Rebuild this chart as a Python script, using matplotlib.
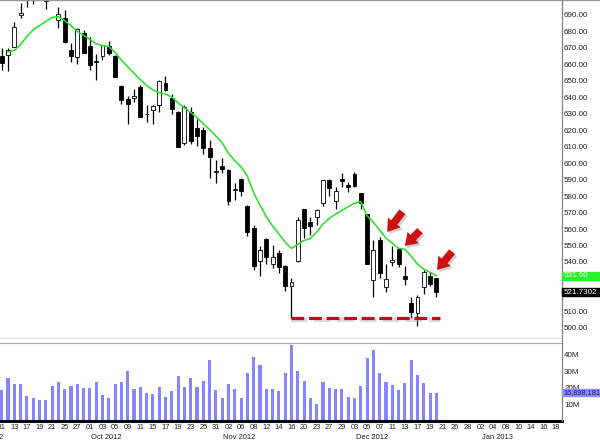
import numpy as np
import matplotlib.pyplot as plt
import matplotlib.ticker as ticker
import matplotlib.transforms as mtransforms
from matplotlib.patches import Rectangle
from matplotlib.lines import Line2D

plt.rcParams['font.family'] = ['Liberation Sans', 'DejaVu Sans']

# trading-day slots: Sep 11 2012 .. Dec 20 2012 have data, the rest up to Jan 18 2013 is empty
days = ['11', '12', '13', '14', '17', '18', '19', '20', '21', '24', '25', '26', '27', '28',
        '01', '02', '03', '04', '05', '08', '09', '10', '11', '12', '15', '16', '17', '18', '19',
        '22', '23', '24', '25', '26', '31',
        '01', '02', '05', '06', '07', '08', '09', '12', '13', '14', '15', '16', '19', '20', '21',
        '23', '26', '27', '28', '29', '30',
        '03', '04', '05', '06', '07', '10', '11', '12', '13', '14', '17', '18', '19', '20',
        '21', '24', '26', '27', '28', '31', '02', '03', '04', '07', '08', '09', '10', '11',
        '14', '15', '16', '17', '18']
months = ['Sep 2012', 'Oct 2012', 'Nov 2012', 'Dec 2012', 'Jan 2013']
month_start = [-5, 14, 35, 56, 76]

opens = [665.1, 665.5, 670.8, 690.0, 699.4, 699.9, 700.3, 699.2, 702.4, 686.9, 688.3, 668.7, 664.3, 678.8,
         671.2, 661.8, 664.9, 671.3, 665.2, 646.9, 638.7, 639.7, 646.5, 629.6, 632.4, 635.4, 648.9, 639.6,
         631.1, 612.4, 631.0, 621.4, 620.0, 609.4, 594.9,
         598.2, 595.9, 583.5, 590.2, 573.8, 560.6, 540.4, 554.2, 538.9, 545.5, 537.5, 525.2, 540.7, 571.9,
         564.3, 567.2, 575.9, 589.6, 577.3, 590.2, 586.8,
         593.7, 581.8, 568.9, 528.9, 553.4, 525.0, 539.8, 547.8, 531.2, 514.8, 508.9, 525.0, 531.5, 530.0]
highs = [670.1, 669.9, 685.5, 697.0, 699.8, 702.3, 704.0, 700.1, 705.1, 695.1, 692.8, 672.7, 682.2, 681.1,
         676.8, 666.4, 671.9, 674.3, 666.0, 647.6, 640.5, 645.0, 647.2, 635.4, 635.1, 650.3, 652.8, 642.1,
         631.8, 635.4, 633.9, 626.6, 622.0, 614.0, 602.0,
         603.0, 596.3, 587.8, 590.7, 574.5, 562.2, 549.9, 554.5, 550.5, 547.5, 538.3, 530.0, 567.5, 572.0,
         567.4, 572.0, 590.0, 590.4, 585.8, 594.3, 588.4,
         594.6, 581.8, 569.3, 553.3, 555.0, 538.5, 549.6, 547.8, 537.6, 518.8, 520.0, 534.9, 533.7, 530.2]
lows = [656.5, 656.0, 670.4, 687.9, 694.6, 696.4, 699.6, 693.6, 699.4, 682.0, 673.0, 661.2, 660.4, 666.8,
        656.5, 650.7, 662.6, 665.6, 652.3, 636.1, 623.6, 637.0, 628.1, 625.3, 623.9, 631.0, 644.0, 630.0,
        609.6, 610.8, 611.7, 610.6, 605.6, 591.0, 587.7,
        594.2, 574.8, 577.6, 580.1, 555.8, 535.3, 531.6, 538.7, 536.4, 533.1, 522.2, 505.8, 539.9, 554.6,
        556.6, 562.6, 573.7, 580.1, 572.3, 585.3, 582.7,
        585.5, 572.1, 538.8, 518.6, 530.0, 521.6, 537.4, 536.7, 525.8, 505.8, 501.2, 520.3, 525.5, 518.9]
closes = [660.6, 668.5, 683.0, 691.3, 699.8, 701.9, 702.1, 698.7, 700.1, 690.8, 673.5, 665.2, 681.3, 667.1,
          659.4, 661.3, 671.5, 666.8, 652.6, 638.2, 635.9, 640.9, 628.1, 629.7, 634.8, 649.8, 644.6, 632.6,
          609.8, 634.0, 613.4, 616.8, 609.5, 604.0, 595.3,
          596.5, 576.8, 584.6, 582.9, 558.0, 537.8, 547.1, 542.8, 542.9, 536.9, 525.6, 527.7, 565.7, 560.9,
          561.7, 571.5, 589.5, 584.8, 582.9, 589.4, 585.3,
          586.2, 575.9, 538.8, 547.2, 533.3, 529.8, 541.4, 539.0, 529.7, 509.8, 518.8, 533.9, 526.3, 521.73]

# moving average, starts at the second candle
sma = [667.5, 668.5, 672.0, 677.0, 681.0, 683.6, 686.0, 688.5, 689.0, 686.5,
       683.5, 680.0, 677.7, 675.2, 672.5, 671.4, 670.8, 667.3, 662.6, 658.6,
       654.6, 650.8, 647.2, 644.5, 642.8, 642.0, 640.2, 636.6, 633.7, 630.8,
       627.6, 624.0, 620.5, 616.5, 612.3, 606.0, 601.5, 597.7, 592.0, 582.0,
       574.4, 567.5, 561.8, 557.0, 552.0, 548.2, 550.7, 553.0, 554.2, 558.1,
       563.0, 566.5, 569.0, 571.3, 573.5, 575.7, 576.6, 568.0, 564.1, 559.3,
       554.5, 551.4, 548.3, 547.7, 543.5, 538.7, 535.6, 533.7, 531.6]

# volume in millions
volume = [18.6, 26.0, 22.0, 22.0, 15.0, 14.0, 12.4, 12.6, 21.0, 23.6, 19.0, 21.0, 22.0, 19.8,
          20.0, 23.4, 15.6, 14.0, 22.0, 23.4, 30.4, 19.0, 20.4, 17.0, 16.0, 20.4, 14.4, 17.8,
          27.0, 20.4, 25.8, 20.6, 24.0, 37.0, 18.6,
          13.6, 22.0, 19.4, 14.0, 29.0, 38.4, 33.8, 19.0, 19.4, 17.8, 28.8, 46.0, 30.0, 24.0,
          14.0, 10.4, 23.6, 19.6, 19.2, 19.2, 14.6,
          13.8, 20.8, 38.0, 42.6, 29.0, 23.6, 21.8, 18.4, 23.0, 36.6, 28.0, 23.0, 16.6, 16.898181]

support = 505.75
sma_last = 531.60
close_last = '521.7302'
vol_last = '16,898,181'

W, H = 600, 440
fig = plt.figure(figsize=(6, 4.4), dpi=100)
ax = fig.add_axes([0, 1 - 338 / H, 562 / W, 337 / H])
axv = fig.add_axes([0, 1 - 421 / H, 562 / W, 78 / H])

n = len(closes)
x = np.arange(n)
xlim = (-0.27, 88.94)

# candles
for i in range(n):
    o, h, l, c = opens[i], highs[i], lows[i], closes[i]
    ax.vlines(i, l, h, color='black', lw=0.9, zorder=2)
    lo = min(o, c)
    ht = max(abs(c - o), 0.4)
    fc = 'white' if c >= o else 'black'
    ax.bar(i, ht, bottom=lo, width=0.62, color=fc, edgecolor='black', lw=0.6, zorder=3)

ax.plot(x[1:], sma, color='#1ee31e', lw=1.1, zorder=4)

# support line with a soft shadow
ax.hlines(support - 1.2, 46, 69.6, colors='#bbbbbb', lw=3, alpha=0.5,
          linestyles=(0, (4, 1.5)), zorder=4)
ax.hlines(support, 46, 69.6, colors='#b3141b', lw=2.3, linestyles=(0, (4, 1.5)), zorder=5)

# red arrows pointing at the moving average
arrows = [((63.6, 570.5), (61.2, 558.2)),
          ((66.4, 559.0), (64.0, 549.7)),
          ((71.5, 546.2), (69.1, 535.1))]
style = 'simple,head_length=0.85,head_width=1.15,tail_width=0.55'
for tail, tip in arrows:
    ax.annotate('', xy=(tip[0] + 0.35, tip[1] - 1.3), xytext=(tail[0] + 0.35, tail[1] - 1.3),
                arrowprops=dict(arrowstyle=style, fc='#999999', ec='none', alpha=0.45,
                                mutation_scale=10, shrinkA=0, shrinkB=0), annotation_clip=False, zorder=6)
    ax.annotate('', xy=tip, xytext=tail,
                arrowprops=dict(arrowstyle=style, fc='#cc1111', ec='none',
                                mutation_scale=10, shrinkA=0, shrinkB=0), annotation_clip=False, zorder=7)

ax.set_xlim(*xlim)
ax.set_ylim(493.8, 698.5)
ax.yaxis.tick_right()
ax.set_yticks(np.arange(500, 691, 10))
ax.yaxis.set_major_formatter(ticker.FormatStrFormatter('%.2f'))
ax.tick_params(axis='y', length=0, pad=1.5, labelsize=5.8, labelcolor='#222222')
ax.set_xticks([])
for s in ['left', 'top']:
    ax.spines[s].set_visible(False)
ax.spines['right'].set_color('#808080')
ax.spines['bottom'].set_color('#dddddd')

# volume
axv.bar(x, volume, width=0.5, color='#8585ff', zorder=2)
axv.set_xlim(*xlim)
axv.set_ylim(0, 47)
axv.yaxis.tick_right()
axv.set_yticks([10, 20, 30, 40])
axv.set_yticklabels(['10M', '20M', '30M', '40M'])
axv.tick_params(axis='y', length=0, pad=1.5, labelsize=5.8, labelcolor='#222222')
axv.set_xticks(np.arange(0, len(days), 2))
axv.set_xticklabels(days[::2])
axv.tick_params(axis='x', length=0, pad=2.5, labelsize=5.4, labelcolor='#222222')
axv.spines['left'].set_visible(False)
axv.spines['top'].set_color('#aaaaaa')
axv.spines['right'].set_color('#808080')
axv.spines['bottom'].set_color('black')
axv.spines['bottom'].set_linewidth(2.2)

# month labels under the day numbers
bm = mtransforms.blended_transform_factory(axv.transData, fig.transFigure)
for m, i in zip(months, month_start):
    axv.text(i + 0.2, 1 - 437 / H, m, transform=bm, fontsize=5.4, color='#222222',
             ha='left', va='center', clip_on=False)

# last-value tags, drawn on the figure so they cover the scale labels
fig.canvas.draw()
x0 = 562 / W
tags = [(ax, sma_last, '%.2f' % sma_last, '#2af02a', 'white', 8, 5.8),
        (ax, float(close_last), close_last, 'black', 'white', 8, 5.8),
        (axv, volume[-1], vol_last, '#8c8cff', '#1a1a5a', 7, 5.2)]
for a, val, txt, fc, tc, hpx, fs in tags:
    yf = fig.transFigure.inverted().transform(a.transData.transform((0, val)))[1]
    hf = hpx / H
    fig.add_artist(Rectangle((x0, yf - hf / 2), 1 - x0, hf, transform=fig.transFigure,
                             color=fc, zorder=10))
    fig.text(x0 + 1.5 / W, yf, txt, fontsize=fs, color=tc, va='center', ha='left', zorder=11)

# frame lines
fig.add_artist(Line2D([0, 1], [1 - 0.5 / H, 1 - 0.5 / H], color='#999999', lw=1))
fig.add_artist(Line2D([x0, x0], [1 - 421 / H, 1], color='#808080', lw=0.8))

fig.savefig('out.png', dpi=100, facecolor='white')
